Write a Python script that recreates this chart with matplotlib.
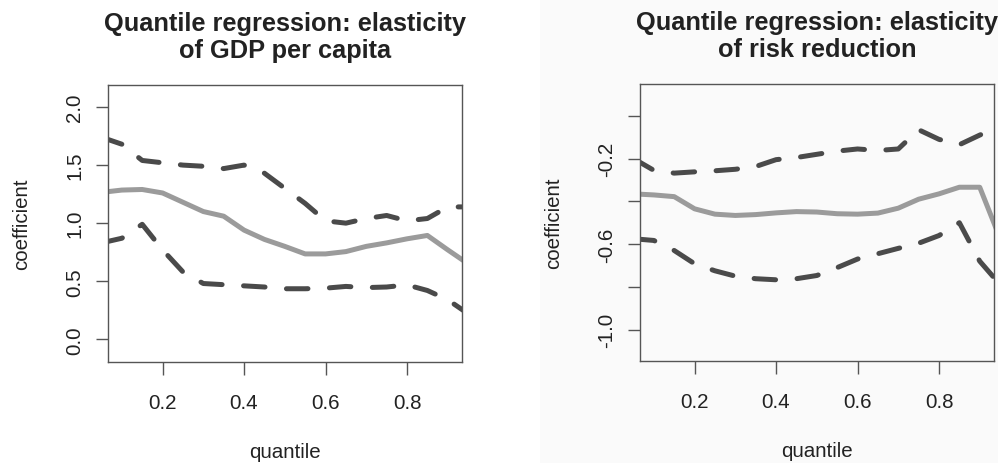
import matplotlib
matplotlib.use("Agg")
import matplotlib.pyplot as plt
from matplotlib.patches import Rectangle
import numpy as np

plt.rcParams['font.family'] = ['Liberation Sans', 'DejaVu Sans']

quantiles = [0.05, 0.10, 0.15, 0.20, 0.25, 0.30, 0.35, 0.40, 0.45, 0.50,
             0.55, 0.60, 0.65, 0.70, 0.75, 0.80, 0.85, 0.90, 0.95]

gdp_coef = [1.265, 1.285, 1.29, 1.26, 1.18, 1.10, 1.06, 0.94, 0.86, 0.80,
            0.735, 0.735, 0.755, 0.80, 0.83, 0.865, 0.894, 0.77, 0.65]
gdp_upper = [1.74, 1.68, 1.54, 1.52, 1.50, 1.49, 1.47, 1.50, 1.43, 1.30,
             1.17, 1.02, 1.00, 1.04, 1.066, 1.02, 1.04, 1.14, 1.14]
gdp_lower = [0.83, 0.87, 0.99, 0.77, 0.58, 0.48, 0.47, 0.46, 0.45, 0.435,
             0.435, 0.44, 0.455, 0.445, 0.45, 0.468, 0.42, 0.34, 0.22]

risk_coef = [-0.365, -0.37, -0.378, -0.435, -0.46, -0.466, -0.462, -0.454, -0.448, -0.45,
             -0.458, -0.46, -0.455, -0.432, -0.39, -0.365, -0.334, -0.334, -0.574]
risk_upper = [-0.20, -0.255, -0.268, -0.262, -0.257, -0.25, -0.237, -0.205, -0.195, -0.18,
              -0.165, -0.155, -0.162, -0.155, -0.065, -0.11, -0.135, -0.09, -0.05]
risk_lower = [-0.575, -0.583, -0.63, -0.692, -0.725, -0.75, -0.762, -0.767, -0.762, -0.747,
              -0.71, -0.67, -0.645, -0.62, -0.596, -0.56, -0.50, -0.68, -0.79]

titles = ["Quantile regression: elasticity\nof GDP per capita",
          "Quantile regression: elasticity\nof risk reduction"]
xticks = [0.2, 0.4, 0.6, 0.8]
xtick_labels = ["0.2", "0.4", "0.6", "0.8"]
gdp_yticks = [0.0, 0.5, 1.0, 1.5, 2.0]
gdp_ylabels = ["0.0", "0.5", "1.0", "1.5", "2.0"]
risk_yticks = [-1.0, -0.8, -0.6, -0.4, -0.2, 0.0]
risk_ylabels = ["-1.0", "", "-0.6", "", "-0.2", ""]

W, H = 998, 464
fig = plt.figure(figsize=(W / 100, H / 100), dpi=100)
fig.patch.set_facecolor('white')
fig.patches.append(Rectangle((540 / W, 0), 1 - 540 / W, 1, transform=fig.transFigure,
                             facecolor='#fafafa', edgecolor='none', zorder=-10))

def px_axes(x0, y0, x1, y1):
    return fig.add_axes([x0 / W, 1 - y1 / H, (x1 - x0) / W, (y1 - y0) / H])

ax1 = px_axes(108, 86, 462, 363)
ax2 = px_axes(640, 85, 994, 362)

dash_col = '#4a4a4a'
solid_col = '#9b9b9b'
fs = 14.8

panels = [
    (ax1, gdp_coef, gdp_upper, gdp_lower, (-0.196, 2.19), gdp_yticks, gdp_ylabels, titles[0]),
    (ax2, risk_coef, risk_upper, risk_lower, (-1.147, 0.149), risk_yticks, risk_ylabels, titles[1]),
]

for ax, coef, up, lo, ylim, yt, yl, title in panels:
    ax.set_facecolor('none')
    ax.plot(quantiles, coef, color=solid_col, lw=3.6, solid_capstyle='round',
            solid_joinstyle='round')
    for band in (up, lo):
        ax.plot(quantiles, band, color=dash_col, lw=3.6, linestyle=(0, (4.3, 4.3)),
                dash_capstyle='round', dash_joinstyle='round')
    ax.set_xlim(0.066, 0.935)
    ax.set_ylim(*ylim)
    ax.set_xticks(xticks)
    ax.set_xticklabels(xtick_labels, fontsize=fs, color='#222222')
    ax.set_yticks(yt)
    ax.set_yticklabels(yl, fontsize=fs, color='#222222', rotation=90, va='center')
    ax.tick_params(axis='both', direction='out', length=9, width=1.0, color='#555555')
    ax.tick_params(axis='x', pad=13)
    ax.tick_params(axis='y', pad=8)
    for s in ax.spines.values():
        s.set_color('#555555')
        s.set_linewidth(1.0)
    ax.set_xlabel('quantile', fontsize=fs, color='#222222', labelpad=22)
    ax.set_ylabel('coefficient', fontsize=fs, color='#222222', labelpad=25)
    ax.set_title(title, fontsize=18.3, fontweight='bold', color='#222222', pad=20,
                 linespacing=1.15)

fig.savefig('out.png', dpi=100)
